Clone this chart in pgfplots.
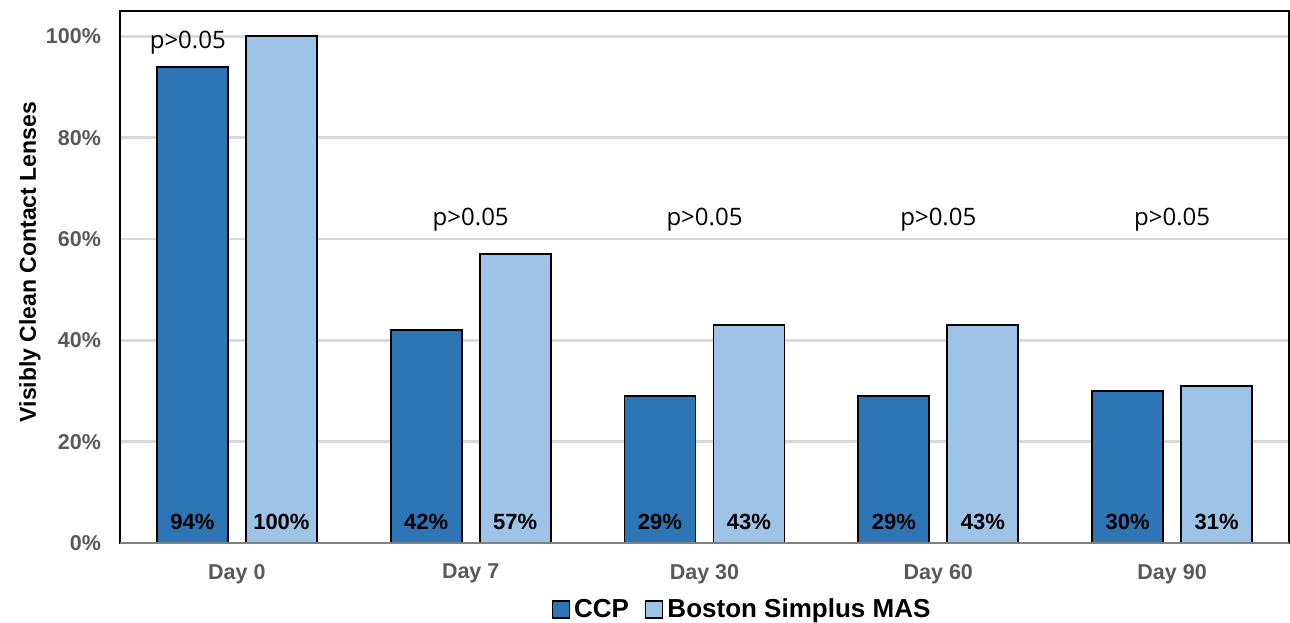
\documentclass[border=0pt]{standalone}
\usepackage{pgfplots}
\pgfplotsset{compat=1.18}
\usepackage{fontspec}
\setmainfont{Liberation Sans}
\newfontfamily\pfont{Open Sans}

\definecolor{ccp}{HTML}{2E75B6}
\definecolor{boston}{HTML}{9DC3E6}
\definecolor{ticktext}{HTML}{595959}
\definecolor{gridgray}{HTML}{D9D9D9}

\begin{document}
\begin{tikzpicture}
    \begin{axis}[
        name=ax,
        at={(0,0)}, anchor=south west,
        scale only axis,
        width=584.5pt, height=266pt,
        xmin=-0.5, xmax=4.5,
        ymin=0, ymax=105,
        ybar,
        bar width=35.5pt,
        xtick={0,1,2,3,4},
        xticklabels={Day 0, Day 7, Day 30, Day 60, Day 90},
        ytick={0,20,40,60,80,100},
        yticklabels={0\%,20\%,40\%,60\%,80\%,100\%},
        major tick length=0pt,
        tick style={draw=none},
        ticklabel style={text=ticktext, font=\bfseries\fontsize{10.75}{12}\selectfont},
        xticklabel style={yshift=-7pt},
        yticklabel style={xshift=-6pt},
        ylabel={\bfseries Visibly Clean Contact Lenses},
        ylabel style={font=\fontsize{11.5}{13}\selectfont,
            at={(axis description cs:-0.077,0.528)}, anchor=center},
        ymajorgrids=true,
        grid style={gridgray, line width=1.2pt},
        axis line style={black, line width=1pt},
        legend columns=2,
        legend style={at={(0.533,-0.125)}, anchor=center, draw=none, fill=none,
            font=\bfseries\fontsize{13}{15}\selectfont,
            /tikz/every even column/.append style={column sep=6pt}},
        legend image code/.code={\draw[#1, draw=black, line width=0.7pt] (0pt,-4.25pt) rectangle (8.5pt,4.25pt);},
        after end axis/.code={
            \draw[gray, line width=1pt] (rel axis cs:0,0) -- (rel axis cs:1,0);
        },
        clip=false,
    ]

%   CCP
    \addplot[fill=ccp, draw=black, line width=0.9pt, bar shift=-22.25pt]
        coordinates {(0,94) (1,42) (2,29) (3,29) (4,30)};

%   Boston Simplus MAS
    \addplot[fill=boston, draw=black, line width=0.9pt, bar shift=22.25pt]
        coordinates {(0,100) (1,57) (2,43) (3,43) (4,31)};

    \legend{CCP, Boston Simplus MAS}

%   value labels at the foot of each bar
    \tikzset{vlab/.style={font=\bfseries\fontsize{11}{13}\selectfont, text=black}}
    \node[vlab, xshift=-22.25pt] at (axis cs:0,4.1) {94\%};
    \node[vlab, xshift=22.25pt]  at (axis cs:0,4.1) {100\%};
    \node[vlab, xshift=-22.25pt] at (axis cs:1,4.1) {42\%};
    \node[vlab, xshift=22.25pt]  at (axis cs:1,4.1) {57\%};
    \node[vlab, xshift=-22.25pt] at (axis cs:2,4.1) {29\%};
    \node[vlab, xshift=22.25pt]  at (axis cs:2,4.1) {43\%};
    \node[vlab, xshift=-22.25pt] at (axis cs:3,4.1) {29\%};
    \node[vlab, xshift=22.25pt]  at (axis cs:3,4.1) {43\%};
    \node[vlab, xshift=-22.25pt] at (axis cs:4,4.1) {30\%};
    \node[vlab, xshift=22.25pt]  at (axis cs:4,4.1) {31\%};

%   significance notes
    \tikzset{plab/.style={font=\pfont\fontsize{12}{14}\selectfont, text=black}}
    \node[plab] at (axis cs:-0.21,98.8) {p>0.05};
    \node[plab] at (axis cs:1,63.8) {p>0.05};
    \node[plab] at (axis cs:2,63.8) {p>0.05};
    \node[plab] at (axis cs:3,63.8) {p>0.05};
    \node[plab] at (axis cs:4,63.8) {p>0.05};

    \end{axis}
    \pgfresetboundingbox
    \path (-60pt,-39.5pt) rectangle (585pt,271.5pt);
\end{tikzpicture}
\end{document}
